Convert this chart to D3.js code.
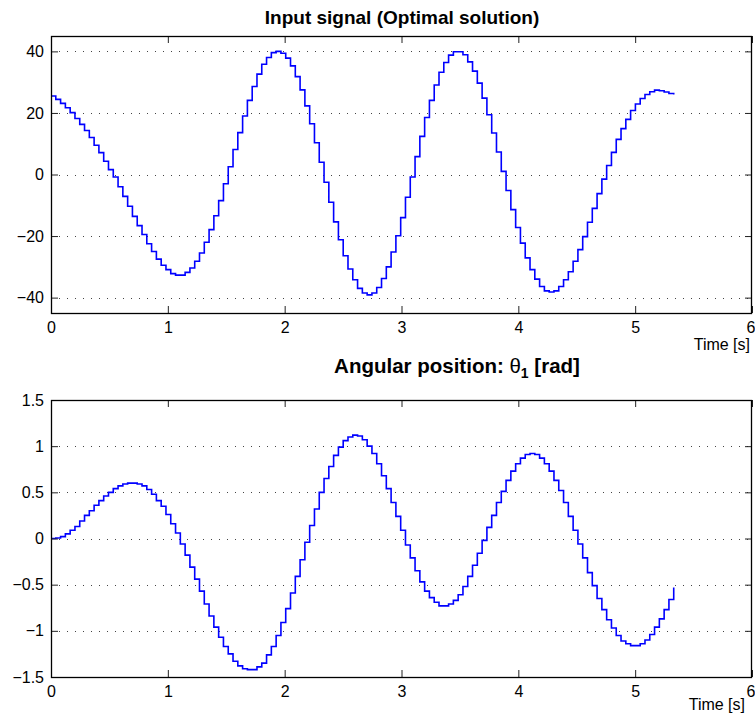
<!DOCTYPE html>
<html>
<head>
<meta charset="utf-8">
<script src="https://cdn.jsdelivr.net/npm/d3@7"></script>
<style>
  body { margin: 0; background: #fff; }
  svg { display: block; }
  text { font-family: "Liberation Sans", Arial, Helvetica, sans-serif; }
</style>
</head>
<body>
<svg id="fig" width="755" height="713"></svg>
<script>
// Zero-order-hold sample period [s]
const sampleTime = 0.041;

// Optimal input signal, one value per sample (last value closes the final step)
const inputSignal = [
  25.5, 24.4, 23.1, 21.7, 20.1, 18.2, 16.3, 14.3, 12.0, 9.5,
  7.1, 4.3, 1.6, -0.8, -4.0, -7.1, -10.3, -13.6, -16.6, -19.5,
  -22.5, -25.0, -27.5, -29.5, -30.9, -32.2, -32.7, -32.7, -31.8, -30.4,
  -28.2, -25.5, -22.0, -17.9, -13.4, -8.5, -3.0, 2.5, 8.1, 13.6,
  19.0, 24.1, 28.6, 32.6, 35.8, 38.0, 39.6, 40.0, 39.4, 37.8,
  35.3, 31.8, 27.5, 22.3, 16.5, 10.3, 4.0, -2.5, -9.0, -15.4,
  -21.2, -26.4, -30.7, -34.2, -37.0, -38.5, -39.1, -38.5, -36.7, -33.8,
  -30.0, -25.2, -19.9, -14.0, -7.4, -0.8, 5.8, 12.4, 18.5, 24.1,
  29.1, 33.2, 36.4, 38.8, 39.9, 39.9, 38.9, 36.6, 33.6, 29.7,
  24.8, 19.4, 13.5, 7.3, 1.0, -5.2, -11.4, -17.2, -22.3, -27.1,
  -30.9, -34.0, -36.4, -37.8, -38.2, -37.8, -36.4, -34.2, -31.6, -28.2,
  -24.4, -20.2, -15.5, -11.0, -6.2, -1.5, 2.9, 7.2, 11.4, 14.9,
  17.9, 20.8, 22.9, 24.7, 26.0, 26.9, 27.4, 27.2, 26.8, 26.3,
  26.0
];

// Angular position theta_1 [rad], one value per sample
const theta1 = [
  0.00, 0.005, 0.02, 0.05, 0.09, 0.13, 0.19, 0.25, 0.30, 0.36,
  0.41, 0.46, 0.50, 0.54, 0.57, 0.59, 0.60, 0.60, 0.59, 0.57,
  0.53, 0.48, 0.41, 0.35, 0.26, 0.16, 0.06, -0.06, -0.18, -0.31,
  -0.44, -0.57, -0.71, -0.84, -0.96, -1.07, -1.17, -1.25, -1.33, -1.38,
  -1.41, -1.42, -1.42, -1.39, -1.35, -1.26, -1.17, -1.05, -0.91, -0.76,
  -0.59, -0.41, -0.23, -0.04, 0.14, 0.32, 0.50, 0.65, 0.78, 0.90,
  0.99, 1.06, 1.10, 1.12, 1.11, 1.07, 1.00, 0.92, 0.81, 0.68,
  0.54, 0.39, 0.24, 0.09, -0.07, -0.21, -0.35, -0.47, -0.57, -0.64,
  -0.69, -0.73, -0.73, -0.71, -0.67, -0.61, -0.52, -0.41, -0.29, -0.16,
  -0.02, 0.12, 0.25, 0.39, 0.51, 0.63, 0.73, 0.81, 0.87, 0.91,
  0.92, 0.91, 0.87, 0.81, 0.73, 0.63, 0.52, 0.39, 0.24, 0.09,
  -0.06, -0.21, -0.37, -0.51, -0.65, -0.77, -0.88, -0.97, -1.05, -1.11,
  -1.14, -1.16, -1.16, -1.14, -1.10, -1.04, -0.96, -0.87, -0.77, -0.66,
  -0.53
];

// Axis ticks
const timeTicks = [0, 1, 2, 3, 4, 5, 6];
const inputTicks = [-40, -20, 0, 20, 40];
const thetaTicks = [-1.5, -1, -0.5, 0, 0.5, 1, 1.5];

const svg = d3.select("#fig");
const plotLeft = 51, plotRight = 752;
const tickFont = 16;

function drawPanel(cfg) {
  const x = d3.scaleLinear().domain([0, 6]).range([plotLeft, plotRight]);
  const y = d3.scaleLinear().domain(cfg.yDomain).range([cfg.bottom, cfg.top]);
  const g = svg.append("g");

  // horizontal dotted grid
  g.append("g").selectAll("line").data(cfg.yTicks).join("line")
    .attr("x1", plotLeft).attr("x2", plotRight)
    .attr("y1", d => Math.round(y(d)) + 0.5).attr("y2", d => Math.round(y(d)) + 0.5)
    .attr("stroke", "#444").attr("stroke-width", 1)
    .attr("stroke-dasharray", "1,7");

  // signal as stairs
  const line = d3.line()
    .x((d, i) => x(i * sampleTime))
    .y(d => y(d))
    .curve(d3.curveStepAfter);
  g.append("path").datum(cfg.values)
    .attr("d", line)
    .attr("fill", "none")
    .attr("stroke", "#0000ff")
    .attr("stroke-width", 1.6)
    .attr("stroke-linejoin", "miter");

  // axes with inward ticks on every side
  const styleAxis = sel => {
    sel.select(".domain").remove();
    sel.selectAll(".tick line").attr("stroke", "#222");
    sel.selectAll(".tick text").attr("fill", "#000")
      .style("font-size", tickFont + "px")
      .style("font-family", '"Liberation Sans", Arial, Helvetica, sans-serif');
  };
  const xAxis = g.append("g").attr("transform", `translate(0,${cfg.bottom})`)
    .call(d3.axisBottom(x).tickValues(timeTicks).tickFormat(d3.format("d")).tickSize(-7).tickPadding(9))
    .call(styleAxis);
  // keep the last time label inside the figure edge
  xAxis.selectAll(".tick text").filter(d => d === 6)
    .attr("text-anchor", "end").attr("x", 3);
  g.append("g").attr("transform", `translate(0,${cfg.top})`)
    .call(d3.axisTop(x).tickValues(timeTicks).tickFormat("").tickSize(-7))
    .call(styleAxis);
  g.append("g").attr("transform", `translate(${plotLeft},0)`)
    .call(d3.axisLeft(y).tickValues(cfg.yTicks).tickFormat(d3.format("~g")).tickSize(-7).tickPadding(7))
    .call(styleAxis);
  g.append("g").attr("transform", `translate(${plotRight},0)`)
    .call(d3.axisRight(y).tickValues(cfg.yTicks).tickFormat("").tickSize(-7))
    .call(styleAxis);

  // axes box
  g.append("rect")
    .attr("x", plotLeft + 0.5).attr("y", cfg.top + 0.5)
    .attr("width", plotRight - plotLeft - 1).attr("height", cfg.bottom - cfg.top)
    .attr("fill", "none").attr("stroke", "#000").attr("stroke-width", 1.3);

  // x label, right-aligned under the axis
  g.append("text")
    .attr("x", cfg.xlabelX).attr("y", cfg.xlabelY)
    .attr("text-anchor", "end")
    .style("font-size", tickFont + "px")
    .text("Time [s]");

  return g;
}

const topPanel = drawPanel({
  top: 36, bottom: 313,
  yDomain: [-45, 45], yTicks: inputTicks,
  values: inputSignal, xlabelX: 750, xlabelY: 350
});
topPanel.append("text")
  .attr("x", 402).attr("y", 24)
  .attr("text-anchor", "middle")
  .style("font-size", "19px").style("font-weight", "bold")
  .text("Input signal (Optimal solution)");

const bottomPanel = drawPanel({
  top: 400, bottom: 677,
  yDomain: [-1.5, 1.5], yTicks: thetaTicks,
  values: theta1, xlabelX: 745, xlabelY: 710
});
const title2 = bottomPanel.append("text")
  .attr("x", 457).attr("y", 373)
  .attr("text-anchor", "middle")
  .style("font-size", "20.5px").style("font-weight", "bold");
title2.append("tspan").text("Angular position: ");
title2.append("tspan").style("font-weight", "normal").text("θ");
title2.append("tspan").attr("dy", 5).style("font-size", "14px").text("1");
title2.append("tspan").attr("dy", -5).text(" [rad]");
</script>
</body>
</html>
